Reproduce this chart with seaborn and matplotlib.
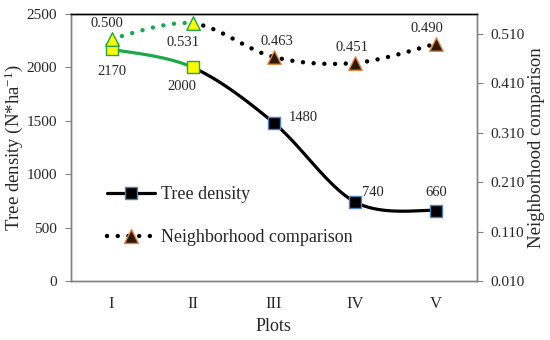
import numpy as np
import pandas as pd
import matplotlib
matplotlib.use("Agg")
import matplotlib.pyplot as plt
from matplotlib.lines import Line2D
import seaborn as sns

plots = ["I", "II", "III", "IV", "V"]
tree_density = [2170, 2000, 1480, 740, 660]
neighborhood = [0.500, 0.531, 0.463, 0.451, 0.490]
density_labels = ["2170", "2000", "1480", "740", "660"]
neighbor_labels = ["0.500", "0.531", "0.463", "0.451", "0.490"]

GREEN = "#1ba84a"
YELLOW = "#ffff00"
BLUE_EDGE = "#4f81bd"
ORANGE_EDGE = "#e8833a"
TRI_FACE = "#2b1a0c"


def excel_smooth(xs, ys, n=40):
    # bezier smoothing like excel's "smoothed line", one array per segment
    pts = np.column_stack([xs, ys]).astype(float)
    P = np.vstack([pts[0], pts, pts[-1]])
    t = np.linspace(0, 1, n)[:, None]
    segs = []
    for i in range(len(pts) - 1):
        p0, p1, p2, p3 = P[i], P[i + 1], P[i + 2], P[i + 3]
        c1 = p1 + (p2 - p0) / 6
        c2 = p2 - (p3 - p1) / 6
        seg = (1 - t) ** 3 * p1 + 3 * (1 - t) ** 2 * t * c1 + 3 * (1 - t) * t ** 2 * c2 + t ** 3 * p2
        segs.append(seg)
    return segs


sns.set_style("white")
plt.rcParams["font.family"] = ["Liberation Serif", "DejaVu Serif"]
plt.rcParams["mathtext.fontset"] = "custom"
plt.rcParams["mathtext.rm"] = "Liberation Serif"
plt.rcParams["mathtext.it"] = "Liberation Serif:italic"

fig = plt.figure(figsize=(5.5, 3.4), dpi=100)
ax = fig.add_axes([0.129, 0.1735, 0.738, 0.7853])
ax2 = ax.twinx()

x = np.arange(len(plots))

# tree density, smoothed line
segs = excel_smooth(x, tree_density)
full = np.vstack(segs[1:])
sns.lineplot(x=segs[0][:, 0], y=segs[0][:, 1], ax=ax, color=GREEN, lw=2.3,
             sort=False, estimator=None, solid_capstyle="round")
sns.lineplot(x=full[:, 0], y=full[:, 1], ax=ax, color="black", lw=2.3,
             sort=False, estimator=None, solid_capstyle="round")
sq = pd.DataFrame({"x": x, "y": tree_density})
sns.scatterplot(data=sq.iloc[:2], x="x", y="y", ax=ax, marker="s", s=80,
                color=YELLOW, edgecolor=GREEN, linewidth=1, zorder=5)
sns.scatterplot(data=sq.iloc[2:], x="x", y="y", ax=ax, marker="s", s=80,
                color="black", edgecolor=BLUE_EDGE, linewidth=1, zorder=5)

# neighborhood comparison, dotted smoothed line
dots = (0, (0.01, 2.4))
segs2 = excel_smooth(x, neighborhood)
full2 = np.vstack(segs2[1:])
sns.lineplot(x=segs2[0][:, 0], y=segs2[0][:, 1], ax=ax2, color=GREEN, lw=3.2,
             linestyle=dots, dash_capstyle="round", sort=False, estimator=None)
sns.lineplot(x=full2[:, 0], y=full2[:, 1], ax=ax2, color="black", lw=3.2,
             linestyle=dots, dash_capstyle="round", sort=False, estimator=None)
tri = pd.DataFrame({"x": x, "y": neighborhood})
sns.scatterplot(data=tri.iloc[:2], x="x", y="y", ax=ax2, marker="^", s=95,
                color=YELLOW, edgecolor=GREEN, linewidth=1, zorder=5)
sns.scatterplot(data=tri.iloc[2:], x="x", y="y", ax=ax2, marker="^", s=95,
                color=TRI_FACE, edgecolor=ORANGE_EDGE, linewidth=1, zorder=5)

# value labels (offsets in points)
d_off = [(0, -16), (-8, -14), (21, 4), (13, 6.5), (0, 13)]
n_off = [(-3.5, 11), (-7, -14), (2, 11), (-2, 11), (-6.5, 11)]
for i in range(len(plots)):
    ax.annotate(density_labels[i], (x[i], tree_density[i]), xytext=d_off[i],
                textcoords="offset points", ha="center", va="center", fontsize=10.5)
    ax2.annotate(neighbor_labels[i], (x[i], neighborhood[i]), xytext=n_off[i],
                 textcoords="offset points", ha="center", va="center", fontsize=10.5)

# axes
ax.set_xlim(-0.5, 4.5)
ax.set_ylim(0, 2500)
ax.set_yticks(np.arange(0, 2501, 500))
ax2.set_ylim(0.01, 0.55)
ax2.set_yticks(np.arange(0.01, 0.52, 0.1))
ax2.set_yticklabels([f"{v:.3f}" for v in np.arange(0.01, 0.52, 0.1)])
ax.set_xticks(x)
ax.set_xticklabels(plots)
ax.set_xticks(np.arange(-0.5, 4.6, 1), minor=True)
ax.tick_params(axis="x", which="major", length=0, pad=11, labelsize=12)
ax.tick_params(axis="x", which="minor", length=4, color="#808080", direction="out")
ax.tick_params(axis="y", length=4, color="#808080", direction="out", pad=6, labelsize=11, left=True)
ax2.tick_params(axis="y", length=4, color="#808080", direction="out", pad=6, labelsize=11, right=True)

for a in (ax, ax2):
    for side in ("left", "right", "bottom"):
        a.spines[side].set_color("#808080")
        a.spines[side].set_linewidth(1)
    a.spines["top"].set_color("black")
    a.spines["top"].set_linewidth(1)

ax.set_xlabel("Plots", fontsize=13)
ax.set_ylabel("Tree density (N*ha$^{-1}$)", fontsize=13.5)
ax2.set_ylabel("Neighborhood comparison", fontsize=13.5)
ax.xaxis.set_label_coords(0.5, -0.139)
ax.yaxis.set_label_coords(-0.114, 0.5)
ax2.yaxis.set_label_coords(1.126, 0.5)

handles = [
    Line2D([], [], color="black", lw=2.3, marker="s", markersize=9,
           markerfacecolor="black", markeredgecolor=BLUE_EDGE),
    Line2D([], [], color="black", lw=3.2, linestyle=dots, dash_capstyle="round",
           marker="^", markersize=10, markerfacecolor=TRI_FACE, markeredgecolor=ORANGE_EDGE),
]
ax2.legend(handles, ["Tree density", "Neighborhood comparison"], loc="center left",
           bbox_to_anchor=(0.088, 0.243), frameon=False, fontsize=13,
           handlelength=2.7, handletextpad=0.3, labelspacing=1.45, borderpad=0,
           borderaxespad=0)

fig.savefig("out.png", dpi=100)
